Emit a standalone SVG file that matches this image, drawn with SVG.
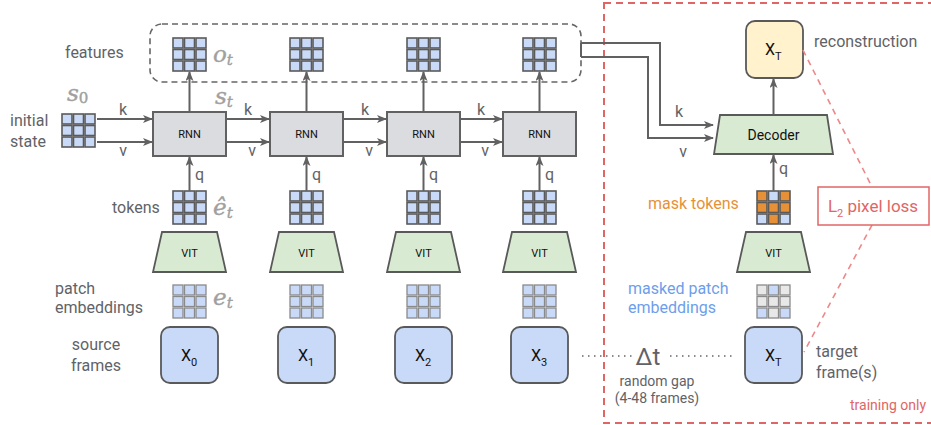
<svg xmlns="http://www.w3.org/2000/svg" xmlns:xlink="http://www.w3.org/1999/xlink" width="931" height="425" viewBox="0 0 931 425">
  <style>
    text { font-family: Roboto, "Liberation Sans", Arial, sans-serif; }
    .lbl { font-size: 16px; fill: #5f6368; }
    .sm { font-size: 14px; fill: #5f6368; }
    .kv { font-size: 16px; fill: #5f6368; }
    .box-t { font-size: 11px; fill: #111; text-anchor: middle; }
    .x-t { font-size: 16px; fill: #111; }
    .math { font-family: "DejaVu Serif", "Liberation Serif", serif; font-style: italic; font-size: 23px; fill: #a0a0a0; stroke: #a0a0a0; stroke-width: 0.4; }
    .sub { font-size: 15px; }
    .conn { fill: none; stroke: #616161; stroke-width: 2; }
    .rnn { fill: #dadce0; stroke: #616161; stroke-width: 2; }
    .vit { fill: #d9ead3; stroke: #595959; stroke-width: 1.8; }
    .frame { fill: #c9daf8; stroke: #595959; stroke-width: 1.8; }
    .recon { fill: #fff2cc; stroke: #595959; stroke-width: 1.8; }
    .cell { fill: #c9daf8; stroke: #5a5a5a; stroke-width: 1.6; }
    .pcell { fill: #c9daf8; stroke: #8a8a8a; stroke-width: 1.3; }
    .gcell { fill: #e8e8e8; stroke: #8a8a8a; stroke-width: 1.3; }
    .ocell { fill: #e69138; stroke: #5a5a5a; stroke-width: 1.6; }
  </style>
  <defs>
    <marker id="arrow" viewBox="0 0 10 8" refX="9" refY="4" markerWidth="10" markerHeight="8" markerUnits="userSpaceOnUse" orient="auto">
      <path d="M0,0 L10,4 L0,8 L2.5,4 z" fill="#616161"/>
    </marker>
    <!-- 3x3 token grid, dark outline -->
    <g id="grid">
      <rect class="cell" x="0" y="0" width="10" height="10"/>
      <rect class="cell" x="11.5" y="0" width="10" height="10"/>
      <rect class="cell" x="23" y="0" width="10" height="10"/>
      <rect class="cell" x="0" y="11.5" width="10" height="10"/>
      <rect class="cell" x="11.5" y="11.5" width="10" height="10"/>
      <rect class="cell" x="23" y="11.5" width="10" height="10"/>
      <rect class="cell" x="0" y="23" width="10" height="10"/>
      <rect class="cell" x="11.5" y="23" width="10" height="10"/>
      <rect class="cell" x="23" y="23" width="10" height="10"/>
    </g>
    <!-- 3x3 patch grid, light outline -->
    <g id="pgrid">
      <rect class="pcell" x="0" y="0" width="10" height="10"/>
      <rect class="pcell" x="11.5" y="0" width="10" height="10"/>
      <rect class="pcell" x="23" y="0" width="10" height="10"/>
      <rect class="pcell" x="0" y="11.5" width="10" height="10"/>
      <rect class="pcell" x="11.5" y="11.5" width="10" height="10"/>
      <rect class="pcell" x="23" y="11.5" width="10" height="10"/>
      <rect class="pcell" x="0" y="23" width="10" height="10"/>
      <rect class="pcell" x="11.5" y="23" width="10" height="10"/>
      <rect class="pcell" x="23" y="23" width="10" height="10"/>
    </g>
  </defs>

  <!-- training-only region -->
  <g id="training-region">
    <rect x="604" y="3" width="345" height="420" fill="none" stroke="#e06666" stroke-width="2" stroke-dasharray="7,5"/>
    <text x="850" y="410" style="font-size:14px; fill:#e06666">training only</text>
  </g>

  <!-- features container -->
  <g id="features">
    <rect x="150" y="24" width="431" height="58" rx="12" fill="none" stroke="#666" stroke-width="1.6" stroke-dasharray="6,4"/>
    <use xlink:href="#grid" x="173" y="38"/>
    <use xlink:href="#grid" x="290" y="38"/>
    <use xlink:href="#grid" x="407" y="38"/>
    <use xlink:href="#grid" x="523" y="38"/>
    <text class="math" x="213" y="62">o<tspan class="sub" dy="3">t</tspan></text>
    <text class="lbl" x="65" y="58">features</text>
  </g>

  <!-- initial state -->
  <g id="initial-state">
    <use xlink:href="#grid" x="62" y="114"/>
    <text class="math" x="67" y="101">s<tspan class="sub" style="font-style:normal" dy="2">0</tspan></text>
    <text class="lbl" x="10" y="126">initial</text>
    <text class="lbl" x="10" y="147">state</text>
  </g>

  <!-- RNN cells -->
  <g id="rnn-1"><rect class="rnn" x="153" y="112" width="73" height="44"/><text class="box-t" x="189.5" y="138">RNN</text></g>
  <g id="rnn-2"><rect class="rnn" x="270" y="112" width="73" height="44"/><text class="box-t" x="306.5" y="138">RNN</text></g>
  <g id="rnn-3"><rect class="rnn" x="387" y="112" width="73" height="44"/><text class="box-t" x="423.5" y="138">RNN</text></g>
  <g id="rnn-4"><rect class="rnn" x="503" y="112" width="73" height="44"/><text class="box-t" x="539.5" y="138">RNN</text></g>
  <text class="math" x="215" y="104">s<tspan class="sub" dy="3">t</tspan></text>

  <!-- tokens -->
  <g id="tokens">
    <use xlink:href="#grid" x="173" y="191"/>
    <use xlink:href="#grid" x="290" y="191"/>
    <use xlink:href="#grid" x="407" y="191"/>
    <use xlink:href="#grid" x="523" y="191"/>
    <text class="lbl" x="112" y="213">tokens</text>
    <text class="math" x="213" y="215">ê<tspan class="sub" dy="3">t</tspan></text>
  </g>

  <!-- ViT encoders -->
  <g id="vit-1"><path class="vit" d="M162,232 H217 L226,272 H153 Z"/><text class="box-t" x="189.5" y="257">VIT</text></g>
  <g id="vit-2"><path class="vit" d="M279,232 H334 L343,272 H270 Z"/><text class="box-t" x="306.5" y="257">VIT</text></g>
  <g id="vit-3"><path class="vit" d="M396,232 H451 L460,272 H387 Z"/><text class="box-t" x="423.5" y="257">VIT</text></g>
  <g id="vit-4"><path class="vit" d="M512,232 H567 L576,272 H503 Z"/><text class="box-t" x="539.5" y="257">VIT</text></g>
  <g id="vit-5"><path class="vit" d="M746,232 H801 L810,272 H737 Z"/><text class="box-t" x="773.5" y="257">VIT</text></g>

  <!-- patch embeddings -->
  <g id="patch-embeddings">
    <use xlink:href="#pgrid" x="173" y="285"/>
    <use xlink:href="#pgrid" x="290" y="285"/>
    <use xlink:href="#pgrid" x="407" y="285"/>
    <use xlink:href="#pgrid" x="523" y="285"/>
    <text class="lbl" x="55" y="294">patch</text>
    <text class="lbl" x="55" y="313">embeddings</text>
    <text class="math" x="213" y="305">e<tspan class="sub" dy="3">t</tspan></text>
  </g>

  <!-- source frames -->
  <g id="source-frames">
    <text class="lbl" x="96" y="350" text-anchor="middle">source</text>
    <text class="lbl" x="96" y="371" text-anchor="middle">frames</text>
    <rect class="frame" x="161" y="327" width="57" height="56" rx="9"/>
    <text class="x-t" x="181" y="361">X<tspan style="font-size:11px" dy="5">0</tspan></text>
    <rect class="frame" x="278" y="327" width="57" height="56" rx="9"/>
    <text class="x-t" x="298" y="361">X<tspan style="font-size:11px" dy="5">1</tspan></text>
    <rect class="frame" x="395" y="327" width="57" height="56" rx="9"/>
    <text class="x-t" x="415" y="361">X<tspan style="font-size:11px" dy="5">2</tspan></text>
    <rect class="frame" x="511" y="327" width="57" height="56" rx="9"/>
    <text class="x-t" x="531" y="361">X<tspan style="font-size:11px" dy="5">3</tspan></text>
  </g>

  <!-- time gap -->
  <g id="gap">
    <line x1="582" y1="356" x2="632" y2="356" stroke="#666" stroke-width="1.5" stroke-dasharray="1.5,4.5"/>
    <line x1="670" y1="356" x2="733" y2="356" stroke="#666" stroke-width="1.5" stroke-dasharray="1.5,4.5"/>
    <text x="648" y="365" text-anchor="middle" style="font-size:24px; fill:#5f6368">Δt</text>
    <text class="sm" x="657" y="386" text-anchor="middle">random gap</text>
    <text class="sm" x="657" y="403" text-anchor="middle">(4-48 frames)</text>
  </g>

  <!-- target frame -->
  <g id="target-frame">
    <rect class="frame" x="745" y="327" width="57" height="56" rx="9"/>
    <text class="x-t" x="765" y="361">X<tspan style="font-size:11px" dy="5">T</tspan></text>
    <text class="lbl" x="816" y="357">target</text>
    <text class="lbl" x="816" y="378">frame(s)</text>
  </g>

  <!-- masked patch embeddings -->
  <g id="masked-patches">
    <rect class="gcell" x="757" y="285" width="10" height="10"/>
    <rect class="pcell" x="768.5" y="285" width="10" height="10"/>
    <rect class="gcell" x="780" y="285" width="10" height="10"/>
    <rect class="gcell" x="757" y="296.5" width="10" height="10"/>
    <rect class="gcell" x="768.5" y="296.5" width="10" height="10"/>
    <rect class="gcell" x="780" y="296.5" width="10" height="10"/>
    <rect class="pcell" x="757" y="308" width="10" height="10"/>
    <rect class="gcell" x="768.5" y="308" width="10" height="10"/>
    <rect class="pcell" x="780" y="308" width="10" height="10"/>
    <text x="628" y="294" style="font-size:16px; fill:#6d9eeb">masked patch</text>
    <text x="628" y="313" style="font-size:16px; fill:#6d9eeb">embeddings</text>
  </g>

  <!-- mask tokens -->
  <g id="mask-tokens">
    <rect class="ocell" x="757" y="191" width="10" height="10"/>
    <rect class="cell" x="768.5" y="191" width="10" height="10"/>
    <rect class="ocell" x="780" y="191" width="10" height="10"/>
    <rect class="ocell" x="757" y="202.5" width="10" height="10"/>
    <rect class="ocell" x="768.5" y="202.5" width="10" height="10"/>
    <rect class="ocell" x="780" y="202.5" width="10" height="10"/>
    <rect class="cell" x="757" y="214" width="10" height="10"/>
    <rect class="ocell" x="768.5" y="214" width="10" height="10"/>
    <rect class="cell" x="780" y="214" width="10" height="10"/>
    <text x="648" y="209" style="font-size:16px; fill:#e69138">mask tokens</text>
  </g>

  <!-- decoder -->
  <g id="decoder">
    <path class="vit" d="M720,115 H827 L833,154 H714 Z"/>
    <text x="773.5" y="140" text-anchor="middle" style="font-size:14px; fill:#111">Decoder</text>
  </g>

  <!-- reconstruction -->
  <g id="reconstruction">
    <rect class="recon" x="746" y="21" width="57" height="57" rx="9"/>
    <text class="x-t" x="765" y="55">X<tspan style="font-size:11px" dy="5">T</tspan></text>
    <text class="lbl" x="814" y="47">reconstruction</text>
  </g>

  <!-- pixel loss -->
  <g id="pixel-loss">
    <line x1="803" y1="50" x2="872" y2="187" stroke="#e88" stroke-width="1.6" stroke-dasharray="6,5"/>
    <line x1="872" y1="225" x2="804" y2="352" stroke="#e88" stroke-width="1.6" stroke-dasharray="6,5"/>
    <rect x="818" y="187" width="111" height="38" fill="#fff" stroke="#e06666" stroke-width="1.5"/>
    <text x="873" y="212" text-anchor="middle" style="font-size:17px; fill:#e06666">L<tspan style="font-size:11px" dy="5">2</tspan><tspan dy="-5"> pixel loss</tspan></text>
  </g>

  <!-- connectors -->
  <g id="connectors">
    <line class="conn" x1="97" y1="119" x2="152" y2="119" marker-end="url(#arrow)"/>
    <line class="conn" x1="97" y1="142" x2="152" y2="142" marker-end="url(#arrow)"/>
    <line class="conn" x1="226" y1="119" x2="269" y2="119" marker-end="url(#arrow)"/>
    <line class="conn" x1="226" y1="142" x2="269" y2="142" marker-end="url(#arrow)"/>
    <line class="conn" x1="343" y1="119" x2="386" y2="119" marker-end="url(#arrow)"/>
    <line class="conn" x1="343" y1="142" x2="386" y2="142" marker-end="url(#arrow)"/>
    <line class="conn" x1="460" y1="119" x2="502" y2="119" marker-end="url(#arrow)"/>
    <line class="conn" x1="460" y1="142" x2="502" y2="142" marker-end="url(#arrow)"/>

    <line class="conn" x1="189.5" y1="112" x2="189.5" y2="72" marker-end="url(#arrow)"/>
    <line class="conn" x1="306.5" y1="112" x2="306.5" y2="72" marker-end="url(#arrow)"/>
    <line class="conn" x1="423.5" y1="112" x2="423.5" y2="72" marker-end="url(#arrow)"/>
    <line class="conn" x1="539.5" y1="112" x2="539.5" y2="72" marker-end="url(#arrow)"/>

    <line class="conn" x1="189.5" y1="191" x2="189.5" y2="157" marker-end="url(#arrow)"/>
    <line class="conn" x1="306.5" y1="191" x2="306.5" y2="157" marker-end="url(#arrow)"/>
    <line class="conn" x1="423.5" y1="191" x2="423.5" y2="157" marker-end="url(#arrow)"/>
    <line class="conn" x1="539.5" y1="191" x2="539.5" y2="157" marker-end="url(#arrow)"/>

    <path class="conn" d="M581,43 H660 V125 H713" marker-end="url(#arrow)"/>
    <path class="conn" d="M581,57 H648 V138 H713" marker-end="url(#arrow)"/>
    <line class="conn" x1="581" y1="43" x2="581" y2="57"/>
    <line class="conn" x1="773.5" y1="115" x2="773.5" y2="79" marker-end="url(#arrow)"/>
    <line class="conn" x1="773.5" y1="191" x2="773.5" y2="155" marker-end="url(#arrow)"/>

    <text class="kv" x="123" y="115" text-anchor="middle">k</text>
    <text class="kv" x="123" y="156" text-anchor="middle">v</text>
    <text class="kv" x="248" y="115" text-anchor="middle">k</text>
    <text class="kv" x="252" y="156" text-anchor="middle">v</text>
    <text class="kv" x="365" y="115" text-anchor="middle">k</text>
    <text class="kv" x="369" y="156" text-anchor="middle">v</text>
    <text class="kv" x="481" y="115" text-anchor="middle">k</text>
    <text class="kv" x="485" y="156" text-anchor="middle">v</text>
    <text class="kv" x="679" y="117" text-anchor="middle">k</text>
    <text class="kv" x="683" y="157" text-anchor="middle">v</text>

    <text class="kv" x="195" y="180">q</text>
    <text class="kv" x="312" y="180">q</text>
    <text class="kv" x="429" y="180">q</text>
    <text class="kv" x="545" y="180">q</text>
    <text class="kv" x="779" y="174">q</text>
  </g>
</svg>
